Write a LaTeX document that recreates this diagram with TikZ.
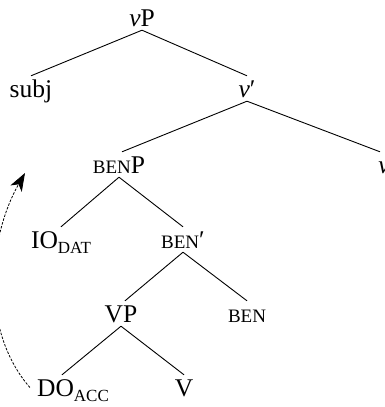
\documentclass[tikz,border=0pt]{standalone}
\usepackage{fontspec}
\setmainfont{Liberation Serif}
\usetikzlibrary{arrows.meta}
\newcommand{\smc}[1]{{\fontsize{19}{19}\selectfont #1}}
\newcommand{\lowlab}[1]{\raisebox{-5pt}{\fontsize{17}{17}\selectfont #1}}

\begin{document}
\begin{tikzpicture}[x=1pt,y=-1pt,
        cat/.style={anchor=base,inner sep=0pt,text height=21pt,text depth=4pt,font=\fontsize{25.5}{28}\selectfont},
        branch/.style={line width=0.9pt}]
        \clip (0,0) rectangle (384,407);
        \node[cat] (vP) at (142,26) {\textit{v}P};
        \node[cat] (subj) at (31,97) {subj};
        \node[cat] (vbar) at (247,97) {\textit{v}′};
        \node[cat] (benP) at (119,173) {\smc{BEN}P};
        \node[cat] (v) at (384,173) {\textit{v}};
        \node[cat] (IO) at (61,248) {IO\lowlab{DAT}};
        \node[cat] (benbar) at (183,248) {\smc{BEN}′};
        \node[cat] (VP) at (121,322) {VP};
        \node[cat] (ben) at (247,322) {\smc{BEN}};
        \node[cat] (DO) at (73,396) {DO\lowlab{ACC}};
        \node[cat] (V) at (184,396) {V};
        \coordinate (landing) at (25,173);
        \draw[branch] (vP.south) -- (subj.north);
        \draw[branch] (vP.south) -- (vbar.north);
        \draw[branch] (vbar.south) -- ([xshift=3pt]benP.north);
        \draw[branch] (vbar.south) -- ([xshift=-4pt]v.north);
        \draw[branch] (benP.south) -- (IO.north);
        \draw[branch] (benP.south) -- (benbar.north);
        \draw[branch] (benbar.south) -- ([xshift=4pt]VP.north);
        \draw[branch] (benbar.south) -- (ben.north);
        \draw[branch] (VP.south) -- ([xshift=-11pt]DO.north);
        \draw[branch] (VP.south) -- (V.north);
        % movement of the direct object
        \draw[line width=0.8pt,dash pattern=on 2.5pt off 1.5pt,-{Stealth[length=18pt,width=13pt,inset=5pt]}]
            ([xshift=-7pt]DO.west) .. controls (-20,330) and (-12,238) .. (landing);
\end{tikzpicture}
\end{document}
